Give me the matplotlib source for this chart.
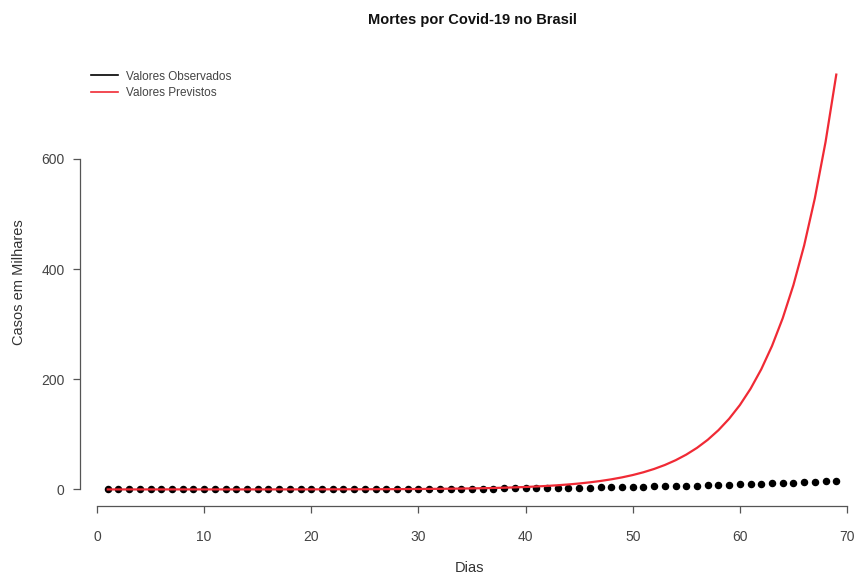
import numpy as np
import matplotlib.pyplot as plt

plt.rcParams['font.family'] = ['Liberation Sans', 'DejaVu Sans']

# deaths per day index, in thousands
dias = list(range(1, 70))
observados = [
    0, 0, 0, 0, 0, 0, 0, 0,
    0.001, 0.004, 0.007, 0.011, 0.018, 0.025, 0.034, 0.046, 0.059, 0.077,
    0.092, 0.111, 0.136, 0.159, 0.201, 0.240, 0.324, 0.359, 0.445, 0.486,
    0.553, 0.667, 0.800, 0.941, 1.056, 1.124, 1.223, 1.328, 1.532, 1.736,
    1.924, 2.141, 2.354, 2.462, 2.575, 2.741, 2.906, 3.331, 3.704, 4.057,
    4.205, 4.543, 5.017, 5.466, 5.901, 6.329, 6.750, 7.025, 7.321, 7.921,
    8.536, 9.146, 9.897, 10.627, 11.123, 11.653, 12.461, 13.149, 13.993,
    14.817, 15.633,
]
previstos = [
    0.004, 0.005, 0.006, 0.007, 0.008, 0.01, 0.012, 0.015, 0.018, 0.021,
    0.025, 0.03, 0.036, 0.043, 0.052, 0.062, 0.074, 0.088, 0.105, 0.126,
    0.15, 0.18, 0.22, 0.26, 0.31, 0.37, 0.44, 0.53, 0.63, 0.76,
    0.90, 1.08, 1.29, 1.54, 1.83, 2.19, 2.61, 3.12, 3.72, 4.44,
    5.31, 6.33, 7.56, 9.02, 10.77, 12.85, 15.34, 18.31, 21.86, 26.09,
    31.14, 37.17, 44.37, 52.96, 63.21, 75.45, 90.06, 107.5, 128.3, 153.1,
    182.8, 218.2, 260.4, 310.8, 371.0, 442.8, 528.6, 630.9, 753.0,
]

W, H = 859, 576
fig = plt.figure(figsize=(W / 100, H / 100), dpi=100)
ax = fig.add_axes([80 / W, (H - 506) / H, (W - 80) / W, (506 - 58) / H])

ax.plot(dias, observados, 'o', color='black', markersize=4.4, label='Valores Observados')
ax.plot(dias, previstos, '-', color='#f02a35', linewidth=1.6, label='Valores Previstos')

ax.set_xlim(-1.59, (W - 97) / (750 / 70))
ax.set_ylim(-30.1, 783.1)

for s in ['top', 'right']:
    ax.spines[s].set_visible(False)
ax.spines['left'].set_bounds(0, 600)
ax.spines['bottom'].set_bounds(0, 70)
for s in ['left', 'bottom']:
    ax.spines[s].set_color('#555555')
    ax.spines[s].set_linewidth(0.9)

ax.set_xticks(range(0, 71, 10))
ax.set_yticks(range(0, 601, 200))
ax.tick_params(colors='#555555', labelcolor='#444444', labelsize=10, length=5, width=0.9)
ax.tick_params(axis='x', pad=12)
ax.tick_params(axis='y', pad=6)

ax.set_ylabel('Casos em Milhares', fontsize=10.5, color='#333333', labelpad=11)
fig.text(469 / W, 1 - 568 / H, 'Dias', ha='center', va='center', fontsize=10.5, color='#333333')
fig.text(472 / W, 1 - 20 / H, 'Mortes por Covid-19 no Brasil', ha='center', va='center',
         fontsize=10.5, fontweight='bold', color='#111111')

leg = ax.legend(loc='upper left', bbox_to_anchor=(80 / W, 1 - 60 / H), bbox_transform=fig.transFigure,
                frameon=False, fontsize=8.5, handlelength=2.3, handletextpad=0.7, labelspacing=0.35)
for h in leg.legend_handles:
    h.set_marker('')
    h.set_linestyle('-')
    h.set_linewidth(1.2)
for t in leg.get_texts():
    t.set_color('#444444')

fig.savefig('out.png', dpi=100)
